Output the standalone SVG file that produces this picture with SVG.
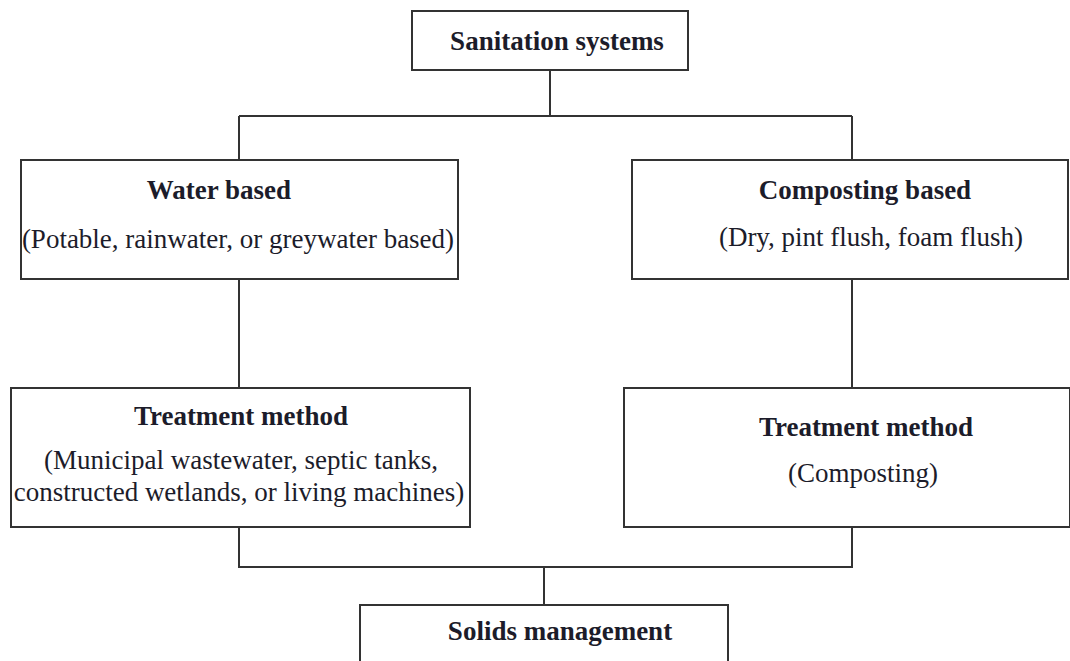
<svg xmlns="http://www.w3.org/2000/svg" width="1070" height="661" viewBox="0 0 1070 661">
<style>
.box{fill:#fff;stroke:#333;stroke-width:2}
.con{fill:none;stroke:#333;stroke-width:2}
.t{font-family:"Liberation Serif","Times New Roman",serif;font-size:27px;font-weight:bold;fill:#1c1c2a;text-anchor:middle}
.s{font-family:"Liberation Serif","Times New Roman",serif;font-size:27px;fill:#1c1c2a;text-anchor:middle}
</style>
<rect width="1070" height="661" fill="#fff"/>
<g id="connectors">
<path class="con" d="M550 70 V116 M239 116 H852 M239 116 V160 M852 116 V160"/>
<path class="con" d="M239 279 V388 M852 279 V388"/>
<path class="con" d="M239 527 V567 H852 V527 M544 567 V605"/>
</g>
<g id="sanitation">
<rect class="box" x="412" y="11" width="276" height="59"/>
<text class="t" x="557" y="50">Sanitation systems</text>
</g>
<g id="water">
<rect class="box" x="21" y="160" width="437" height="119"/>
<text class="t" x="219" y="199">Water based</text>
<text class="s" x="238" y="248">(Potable, rainwater, or greywater based)</text>
</g>
<g id="composting">
<rect class="box" x="632" y="160" width="436" height="119"/>
<text class="t" x="865" y="199">Composting based</text>
<text class="s" x="871" y="246">(Dry, pint flush, foam flush)</text>
</g>
<g id="treat-left">
<rect class="box" x="11" y="388" width="459" height="139"/>
<text class="t" x="241" y="425">Treatment method</text>
<text class="s" x="241" y="469">(Municipal wastewater, septic tanks,</text>
<text class="s" x="239" y="501">constructed wetlands, or living machines)</text>
</g>
<g id="treat-right">
<rect class="box" x="624" y="388" width="446" height="139"/>
<text class="t" x="866" y="436">Treatment method</text>
<text class="s" x="863" y="482">(Composting)</text>
</g>
<g id="solids">
<rect class="box" x="360" y="605" width="368" height="70"/>
<text class="t" x="560" y="640">Solids management</text>
</g>
</svg>
